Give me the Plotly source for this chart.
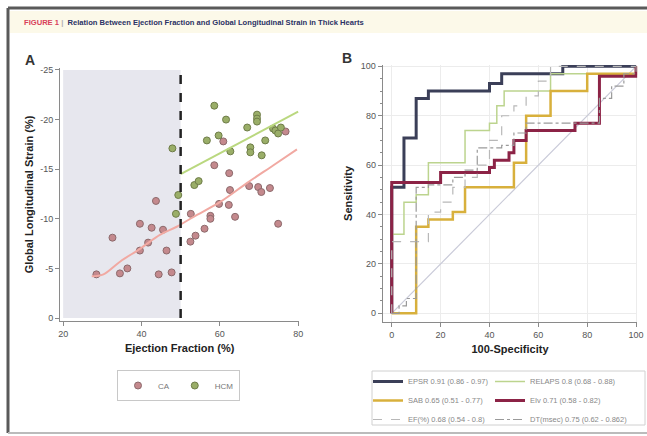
import plotly.graph_objects as go

# ---------------- Panel A data ----------------
ca_ef = [28.5, 32.6, 34.5, 36.4, 39.6, 39.6, 41.7, 42.6, 44.4, 43.7, 45.5, 46.4, 47.7,
         52.6, 52.5, 53.8, 56.1, 57.6, 57.6, 58.6, 59.8, 60.9, 62.4, 62.6, 62.3, 63.9,
         67.5, 69.8, 70.6, 72.8, 74.9, 76.8]
ca_gls = [-4.4, -8.1, -4.5, -5.0, -9.5, -6.8, -7.6, -9.1, -4.4, -11.8, -8.9, -6.8, -4.6,
          -10.5, -7.7, -8.3, -9.0, -10.3, -10.0, -15.4, -11.5, -17.8, -14.6, -12.9, -11.4, -10.2,
          -13.3, -13.2, -12.7, -13.1, -9.5, -18.8]
hcm_ef = [47.9, 49.4, 48.8, 53.5, 54.6, 56.7, 58.6, 59.7, 61.6, 62.7, 67.0, 67.8, 67.8,
          69.5, 69.5, 69.5, 70.7, 71.6, 73.6, 74.2, 74.9, 75.6]
hcm_gls = [-17.1, -12.4, -10.5, -13.4, -13.8, -17.9, -21.4, -18.4, -20.0, -16.8, -19.2, -17.2, -16.7,
           -20.5, -20.1, -19.8, -16.4, -17.9, -19.1, -18.9, -18.6, -19.2]
ca_fit_x = [27.3, 30.3, 34.6, 39.7, 44.8, 49.0, 53.3, 60.1, 66.9, 73.7, 79.7]
ca_fit_y = [-4.2, -4.4, -5.7, -7.0, -8.4, -9.2, -10.2, -11.7, -13.6, -15.4, -17.0]
hcm_fit_x = [50, 80]
hcm_fit_y = [-14.5, -20.8]
ef_cutoff = 50
a_xticks = [20, 40, 60, 80]
a_yticks = [0, -5, -10, -15, -20, -25]
a_yticktext = ["0", "-5", "-10", "-15", "-20", "-25"]

# ---------------- Panel B data ----------------
roc_names = ["EPSR 0.91 (0.86 - 0.97)", "RELAPS 0.8 (0.68 - 0.88)", "SAB 0.65 (0.51 - 0.77)",
             "EIv 0.71 (0.58 - 0.82)", "EF(%) 0.68 (0.54 - 0.8)", "DT(msec) 0.75 (0.62 - 0.862)"]
roc_fpr = [
    [0, 0, 5, 10, 15, 40, 45, 70, 100],
    [0, 0, 5, 10, 15, 30, 40, 43, 46, 65, 100],
    [0, 10, 15, 25, 30, 50, 55, 65, 80, 100],
    [0, 0, 20, 40, 42, 48, 50, 55, 75, 85, 100],
    [0, 0, 15, 20, 25, 30, 35, 40, 45, 50, 55, 60, 65, 100],
    [0, 3, 6, 10, 15, 25, 30, 35, 45, 50, 55, 80, 85, 90, 95, 100],
]
roc_tpr = [
    [0, 51, 71, 87, 90, 93, 97, 100, 100],
    [0, 32, 45, 48, 61, 74, 77, 84, 90, 97, 100],
    [0, 35, 38, 41, 51, 61, 80, 90, 97, 100],
    [0, 53, 57, 59, 62, 65, 70, 74, 77, 96, 100],
    [0, 29, 41, 45, 51, 55, 60, 70, 80, 84, 88, 94, 100, 100],
    [0, 3, 6, 51, 52, 55, 58, 67, 68, 73, 77, 77, 87, 92, 97, 100],
]
roc_colors = ["#3b3f58", "#bcd48e", "#d8b03c", "#8c2346", "#b8b8b8", "#9a9a9a"]
roc_widths = [3, 1.5, 2.5, 3, 1.2, 1.2]
roc_dash = ["solid", "solid", "solid", "solid", "dash", "dashdot"]
roc_legend = ["legend2", "legend3", "legend2", "legend3", "legend2", "legend3"]
b_ticks = [0, 20, 40, 60, 80, 100]

W, H = 647, 436
FONT = "Liberation Sans, Arial, sans-serif"

fig = go.Figure()

# Panel A traces
fig.add_trace(go.Scatter(x=ca_ef, y=ca_gls, mode="markers", name="CA",
                         marker=dict(size=7, color="#c4898d", line=dict(color="#8c6a6c", width=1)),
                         xaxis="x", yaxis="y", legend="legend"))
fig.add_trace(go.Scatter(x=hcm_ef, y=hcm_gls, mode="markers", name="HCM",
                         marker=dict(size=7, color="#9aae68", line=dict(color="#6e7c48", width=1)),
                         xaxis="x", yaxis="y", legend="legend"))
fig.add_trace(go.Scatter(x=ca_fit_x, y=ca_fit_y, mode="lines", line=dict(color="#f1a9a2", width=2, shape="spline"),
                         showlegend=False, hoverinfo="skip", xaxis="x", yaxis="y"))
fig.add_trace(go.Scatter(x=hcm_fit_x, y=hcm_fit_y, mode="lines", line=dict(color="#bad87f", width=2),
                         showlegend=False, hoverinfo="skip", xaxis="x", yaxis="y"))

# Panel B traces
fig.add_trace(go.Scatter(x=[0, 100], y=[0, 100], mode="lines", line=dict(color="#c9cad8", width=1.2),
                         showlegend=False, hoverinfo="skip", xaxis="x2", yaxis="y2"))
for i in range(len(roc_names)):
    fig.add_trace(go.Scatter(x=roc_fpr[i], y=roc_tpr[i], mode="lines", name=roc_names[i],
                             line=dict(color=roc_colors[i], width=roc_widths[i], dash=roc_dash[i], shape="hv"),
                             xaxis="x2", yaxis="y2", legend=roc_legend[i]))

axis_common = dict(showline=True, linecolor="#8a8a8a", linewidth=1, ticks="outside", ticklen=4,
                   tickcolor="#8a8a8a", tickfont=dict(family=FONT, size=9, color="#555"),
                   zeroline=False, showgrid=False)
title_font = dict(family=FONT, size=11, color="#222", weight="bold")
leg_font = dict(family=FONT, size=7.5, color="#888")

fig.update_layout(
    width=W, height=H, margin=dict(l=0, r=0, t=0, b=0, autoexpand=False),
    paper_bgcolor="white", plot_bgcolor="rgba(0,0,0,0)",
    font=dict(family=FONT),
    xaxis=dict(domain=[60 / W, 299.3 / W], range=[19.2, 80.3], tickvals=a_xticks,
               title=dict(text="Ejection Fraction (%)", font=title_font, standoff=6),
               anchor="y", **axis_common),
    yaxis=dict(domain=[1 - 321 / H, 1 - 68 / H], range=[0.3, -25.2], tickvals=a_yticks, ticktext=a_yticktext,
               title=dict(text="Global Longitudinal Strain (%)", font=title_font, standoff=4),
               anchor="x", **axis_common),
    xaxis2=dict(domain=[382.7 / W, 637.3 / W], range=[-3.7, 100.5], tickvals=b_ticks,
                title=dict(text="100-Specificity", font=title_font, standoff=6),
                anchor="y2", **{**axis_common, "showgrid": True, "gridcolor": "#ececec"}),
    yaxis2=dict(domain=[1 - 321.7 / H, 1 - 65.1 / H], range=[-3.4, 100.5], tickvals=b_ticks,
                minor=dict(tickvals=[5, 10, 15, 25, 30, 35, 45, 50, 55, 65, 70, 75, 85, 90, 95],
                           ticks="outside", ticklen=2, tickcolor="#8a8a8a"),
                title=dict(text="Sensitivity", font=title_font, standoff=6),
                anchor="x2", **{**axis_common, "showgrid": True, "gridcolor": "#ececec"}),
    legend=dict(x=117 / W, y=1 - 370 / H, xanchor="left", yanchor="top", orientation="h",
                bordercolor="#c8c8c8", borderwidth=1, bgcolor="white",
                font=dict(family=FONT, size=8, color="#777"), itemwidth=30),
    legend2=dict(x=368 / W, y=1 - 367 / H, xanchor="left", yanchor="top", orientation="v",
                 borderwidth=0, bgcolor="rgba(0,0,0,0)", font=leg_font, itemwidth=30, tracegroupgap=0),
    legend3=dict(x=490 / W, y=1 - 367 / H, xanchor="left", yanchor="top", orientation="v",
                 borderwidth=0, bgcolor="rgba(0,0,0,0)", font=leg_font, itemwidth=30, tracegroupgap=0),
)

shapes = [
    # outer frame
    dict(type="line", xref="paper", yref="paper", x0=8 / W, x1=1.0, y0=1 - 8 / H, y1=1 - 8 / H,
         line=dict(color="#5a5a5a", width=3)),
    dict(type="line", xref="paper", yref="paper", x0=8 / W, x1=8 / W, y0=1 - 8 / H, y1=1 - 433 / H,
         line=dict(color="#5a5a5a", width=3)),
    dict(type="line", xref="paper", yref="paper", x0=8 / W, x1=1.0, y0=1 - 433 / H, y1=1 - 433 / H,
         line=dict(color="#bbbbbb", width=2)),
    # title band
    dict(type="rect", xref="paper", yref="paper", x0=10 / W, x1=1.0, y0=1 - 33 / H, y1=1 - 11 / H,
         fillcolor="#fcf9e9", line=dict(width=0), layer="below"),
    # legend B frame
    dict(type="rect", xref="paper", yref="paper", x0=372 / W, x1=645 / W, y0=1 - 425 / H, y1=1 - 371 / H,
         fillcolor="rgba(0,0,0,0)", line=dict(color="#d0d0d0", width=1)),
    # shaded region EF < 50
    dict(type="rect", xref="x", yref="y", x0=20, x1=ef_cutoff, y0=0, y1=-25,
         fillcolor="#e7e7ee", line=dict(width=0), layer="below"),
    dict(type="line", xref="x", yref="y", x0=ef_cutoff, x1=ef_cutoff, y0=0, y1=-25,
         line=dict(color="#222", width=2.5, dash="dash")),
]
fig.update_layout(shapes=shapes)

annotations = [
    dict(xref="paper", yref="paper", x=22 / W, y=1 - 23 / H, xanchor="left", yanchor="middle", showarrow=False,
         text="<span style='color:#d8405a'>FIGURE 1</span> <span style='color:#b0b0b0'>|</span>  Relation Between Ejection Fraction and Global Longitudinal Strain in Thick Hearts",
         font=dict(family=FONT, size=7.6, color="#2b3264", weight="bold")),
    dict(xref="paper", yref="paper", x=30 / W, y=1 - 60 / H, xanchor="center", yanchor="middle", showarrow=False,
         text="A", font=dict(family=FONT, size=14, color="#333", weight="bold")),
    dict(xref="paper", yref="paper", x=347 / W, y=1 - 58 / H, xanchor="center", yanchor="middle", showarrow=False,
         text="B", font=dict(family=FONT, size=14, color="#333", weight="bold")),
]
fig.update_layout(annotations=annotations)

fig.write_html("out.html", config={"displayModeBar": False},
               post_script="document.body.style.margin='0';document.body.style.overflow='hidden';")
